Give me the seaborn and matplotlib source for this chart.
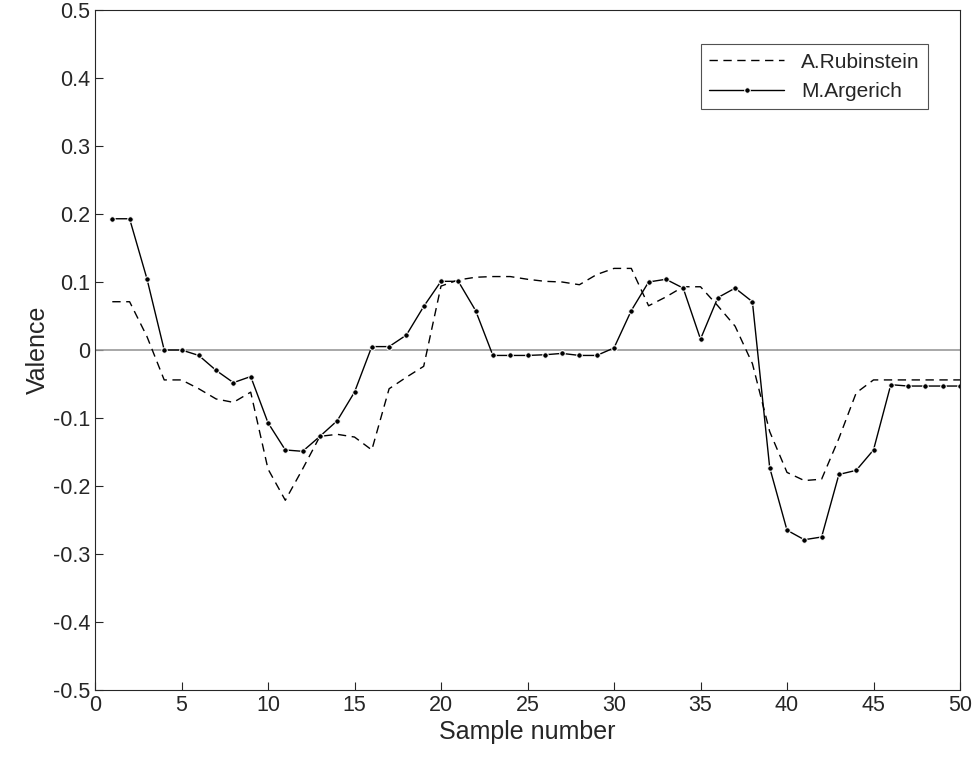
import numpy as np
import pandas as pd
import matplotlib
matplotlib.use("Agg")
import matplotlib.pyplot as plt
import seaborn as sns

sample = list(range(1, 51))
rubinstein = [0.071, 0.071, 0.020, -0.044, -0.044, -0.057, -0.072, -0.077, -0.062, -0.175,
              -0.221, -0.175, -0.127, -0.124, -0.128, -0.147, -0.057, -0.040, -0.024, 0.094,
              0.103, 0.107, 0.108, 0.108, 0.104, 0.101, 0.100, 0.096, 0.111, 0.120,
              0.120, 0.065, 0.078, 0.093, 0.093, 0.065, 0.035, -0.020, -0.120, -0.180,
              -0.192, -0.190, -0.130, -0.063, -0.044, -0.044, -0.044, -0.044, -0.044, -0.044]
argerich = [0.193, 0.193, 0.105, 0.000, 0.000, -0.008, -0.030, -0.048, -0.039, -0.107,
            -0.147, -0.149, -0.127, -0.104, -0.062, 0.005, 0.005, 0.022, 0.064, 0.101,
            0.101, 0.058, -0.008, -0.008, -0.008, -0.007, -0.005, -0.008, -0.008, 0.003,
            0.058, 0.100, 0.104, 0.091, 0.016, 0.077, 0.091, 0.071, -0.173, -0.265,
            -0.279, -0.275, -0.183, -0.177, -0.147, -0.051, -0.053, -0.053, -0.053, -0.053]

df = pd.DataFrame({"sample": sample, "A.Rubinstein": rubinstein, "M.Argerich": argerich})

sns.set_style("ticks")
plt.rcParams['font.family'] = ['Liberation Sans', 'DejaVu Sans']

fig = plt.figure(figsize=(9.75, 7.76), dpi=100)
ax = fig.add_axes([95 / 975, 1 - 690 / 776, 865 / 975, 680 / 776])

ax.axhline(0, color='#999999', lw=1.2, zorder=1)
sns.lineplot(data=df, x="sample", y="A.Rubinstein", ax=ax, color='black', lw=1,
             linestyle=(0, (6, 4)), label="A.Rubinstein")
sns.lineplot(data=df, x="sample", y="M.Argerich", ax=ax, color='black', lw=1,
             marker='o', markersize=4, label="M.Argerich")

ax.set_xlim(0, 50)
ax.set_ylim(-0.5, 0.5)
ax.set_xticks(range(0, 51, 5))
ax.set_yticks(np.arange(-0.5, 0.51, 0.1))
ax.set_yticklabels(['-0.5', '-0.4', '-0.3', '-0.2', '-0.1', '0', '0.1', '0.2', '0.3', '0.4', '0.5'])
ax.tick_params(direction='in', labelsize=15.5, length=6, colors='#262626')
for s in ax.spines.values():
    s.set_color('#262626')
    s.set_linewidth(0.8)
ax.set_xlabel("Sample number", fontsize=18, color='#262626', labelpad=3)
ax.set_ylabel("Valence", fontsize=18, color='#262626', labelpad=2)

leg = ax.legend(loc='upper right', bbox_to_anchor=(0.975, 0.965), fontsize=15, frameon=True,
                fancybox=False, edgecolor='#262626', handlelength=3.6, borderpad=0.4,
                labelspacing=0.5)
leg.get_frame().set_linewidth(0.8)

fig.savefig("out.png", dpi=100)
